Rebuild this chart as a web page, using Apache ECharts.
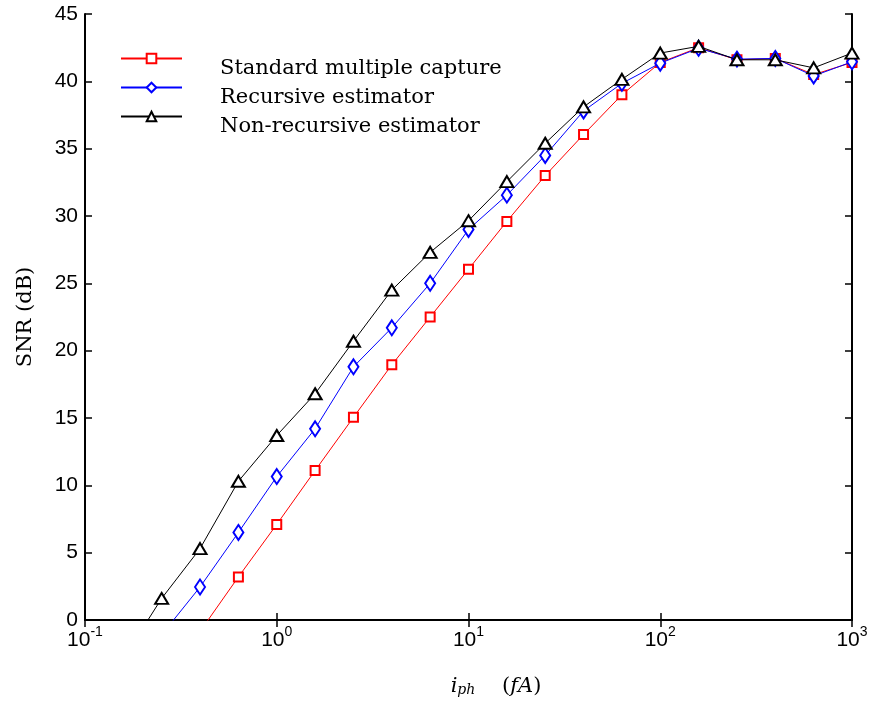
<!DOCTYPE html>
<html>
<head>
<meta charset="utf-8">
<script src="https://cdn.jsdelivr.net/npm/echarts@6/dist/echarts.min.js"></script>
<style>
html,body{margin:0;padding:0;background:#fff;}
#chart{width:870px;height:706px;}
</style>
</head>
<body>
<div id="chart"></div>
<script>
// photocurrent i_ph (fA)
var currents = [0.158, 0.251, 0.398, 0.631, 1, 1.585, 2.512, 3.981, 6.310, 10, 15.85, 25.12, 39.81, 63.10, 100, 158.5, 251.2, 398.1, 631.0, 1000];
// SNR (dB)
var standardMultipleCapture = [null, null, -0.85, 3.2, 7.1, 11.1, 15.05, 18.95, 22.5, 26.05, 29.6, 33.0, 36.05, 39.0, 41.4, 42.5, 41.6, 41.7, 40.5, 41.4];
var recursiveEstimator      = [null, -1.1, 2.45, 6.5, 10.65, 14.2, 18.8, 21.7, 25.0, 29.0, 31.55, 34.5, 37.8, 39.85, 41.35, 42.45, 41.65, 41.7, 40.4, 41.45];
var nonRecursiveEstimator   = [-2.9, 1.6, 5.3, 10.3, 13.7, 16.8, 20.7, 24.5, 27.3, 29.65, 32.55, 35.4, 38.1, 40.15, 42.1, 42.6, 41.6, 41.6, 41.0, 42.1];
var seriesNames = ['Standard multiple capture', 'Recursive estimator', 'Non-recursive estimator'];
var yTicks = [0, 5, 10, 15, 20, 25, 30, 35, 40, 45];

function pairs(vals) {
  var out = [];
  for (var i = 0; i < currents.length; i++) {
    if (vals[i] !== null) out.push([currents[i], vals[i]]);
  }
  return out;
}

var chart = echarts.init(document.getElementById('chart'), null, {renderer: 'canvas'});
var sans = 'Liberation Sans, Arial, Helvetica, sans-serif';
var serif = 'DejaVu Serif, serif';

var option = {
  backgroundColor: '#fff',
  animation: false,
  grid: {left: 85, right: 18, top: 14, bottom: 86, containLabel: false, outerBoundsMode: 'none'},
  legend: {
    left: 120, top: 38, padding: 0, orient: 'vertical',
    itemWidth: 61, itemHeight: 12, itemGap: -12,
    data: seriesNames,
    formatter: function (name) { return '\n' + name; },
    textStyle: {fontFamily: serif, fontSize: 21, color: '#000', lineHeight: 20, padding: [0, 0, 0, 33]}
  },
  xAxis: [{
    type: 'log', logBase: 10, min: 0.1, max: 1000,
    name: '{i|i}{sub|ph}{n|    (}{i|fA}{n|)}',
    nameLocation: 'middle', nameGap: 56,
    nameTextStyle: {
      padding: [0, 0, 0, 55],
      rich: {
        i: {fontFamily: serif, fontStyle: 'italic', fontSize: 21, color: '#000'},
        sub: {fontFamily: serif, fontStyle: 'italic', fontSize: 14, color: '#000', verticalAlign: 'bottom', lineHeight: 14},
        n: {fontFamily: serif, fontSize: 21, color: '#000'}
      }
    },
    axisLine: {show: true, lineStyle: {color: '#000', width: 2}},
    axisTick: {show: true, inside: true, length: 7, lineStyle: {color: '#000', width: 1.5}},
    minorTick: {show: false},
    splitLine: {show: false},
    axisLabel: {
      margin: 5,
      formatter: function (v) {
        var e = Math.round(Math.log10(v));
        return '{b|10}{s|' + e + '}';
      },
      rich: {
        b: {fontFamily: sans, fontSize: 21, color: '#000', lineHeight: 26, verticalAlign: 'bottom'},
        s: {fontFamily: sans, fontSize: 14, color: '#000', lineHeight: 14, verticalAlign: 'top'}
      }
    }
  }, {
    type: 'log', logBase: 10, min: 0.1, max: 1000, position: 'top',
    axisLine: {show: true, lineStyle: {color: '#000', width: 2}},
    axisTick: {show: true, inside: true, length: 7, lineStyle: {color: '#000', width: 1.5}},
    axisLabel: {show: false},
    splitLine: {show: false}
  }],
  yAxis: [{
    type: 'value', min: 0, max: 45, interval: 5,
    name: 'SNR (dB)', nameLocation: 'middle', nameGap: 49, nameRotate: 90,
    nameTextStyle: {fontFamily: serif, fontSize: 21, color: '#000'},
    axisLine: {show: true, lineStyle: {color: '#000', width: 2}},
    axisTick: {show: true, inside: true, length: 7, lineStyle: {color: '#000', width: 1.5}},
    splitLine: {show: false},
    axisLabel: {
      margin: 7, fontFamily: sans, fontSize: 21, color: '#000',
      formatter: function (v) { return yTicks.indexOf(v) >= 0 ? String(v) : ''; }
    }
  }, {
    type: 'value', min: 0, max: 45, interval: 5, position: 'right',
    axisLine: {show: true, lineStyle: {color: '#000', width: 2}},
    axisTick: {show: true, inside: true, length: 7, lineStyle: {color: '#000', width: 1.5}},
    axisLabel: {show: false},
    splitLine: {show: false}
  }],
  series: [{
    name: seriesNames[0], type: 'line', clip: true,
    data: pairs(standardMultipleCapture),
    symbol: 'emptyRect', symbolSize: 9,
    lineStyle: {color: '#ff0000', width: 1},
    itemStyle: {color: '#ff0000', borderColor: '#ff0000', borderWidth: 1},
    z: 3
  }, {
    name: seriesNames[1], type: 'line', clip: true,
    data: pairs(recursiveEstimator),
    symbol: 'emptyDiamond', symbolSize: [10, 15],
    lineStyle: {color: '#0000ff', width: 1},
    itemStyle: {color: '#0000ff', borderColor: '#0000ff', borderWidth: 1},
    z: 4
  }, {
    name: seriesNames[2], type: 'line', clip: true,
    data: pairs(nonRecursiveEstimator),
    symbol: 'emptyTriangle', symbolSize: [13, 11],
    lineStyle: {color: '#000000', width: 1},
    itemStyle: {color: '#000000', borderColor: '#000000', borderWidth: 1},
    z: 5
  }]
};
chart.setOption(option);
</script>
</body>
</html>
